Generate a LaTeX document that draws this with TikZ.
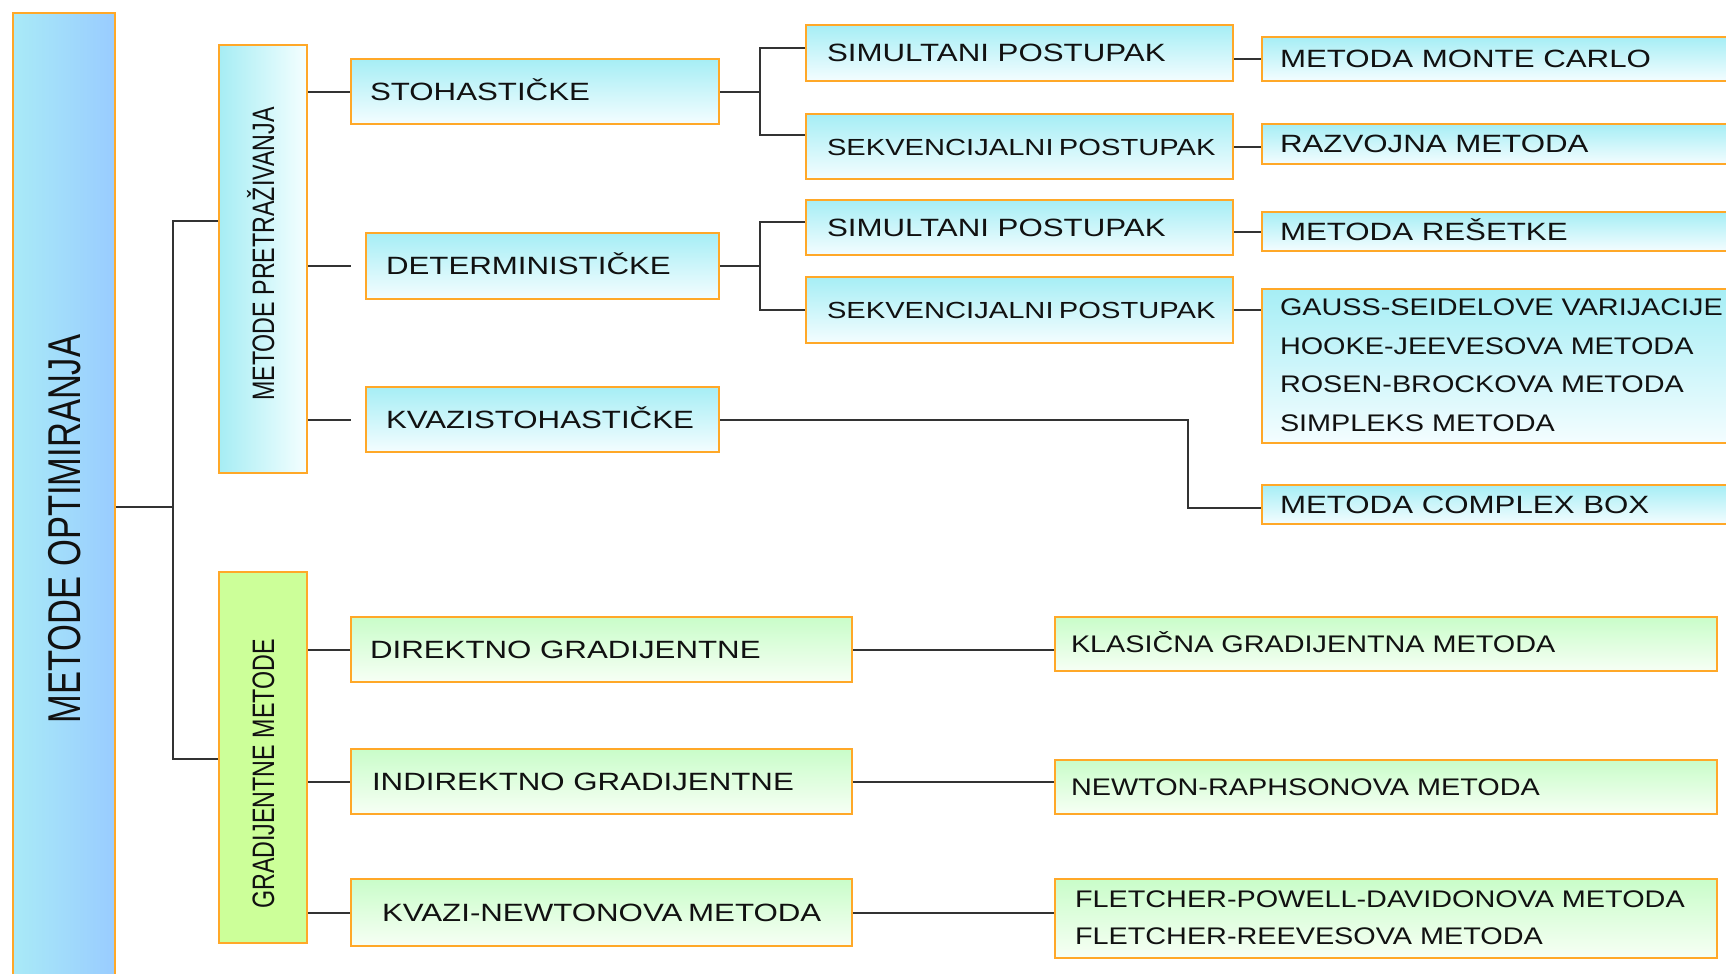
\documentclass[tikz,border=0pt]{standalone}
\usepackage{fontspec}
\setmainfont{Liberation Sans}
\newfontfamily\hfont[FakeStretch=1.2]{Liberation Sans}
\newfontfamily\hfontw[FakeStretch=1.25]{Liberation Sans}
\newfontfamily\vfont[FakeStretch=0.75]{Liberation Sans}
\definecolor{orng}{RGB}{255,168,40}
\definecolor{cyT}{RGB}{166,238,245}
\definecolor{cyB}{RGB}{244,253,255}
\definecolor{grT}{RGB}{201,253,201}
\definecolor{grB}{RGB}{247,255,245}
\definecolor{grS}{RGB}{204,255,153}
\definecolor{mnL}{RGB}{169,234,247}
\definecolor{mnR}{RGB}{153,204,255}
\definecolor{prL}{RGB}{166,237,244}
\definecolor{prR}{RGB}{245,255,255}
\definecolor{lineC}{RGB}{51,51,51}
\definecolor{txt}{RGB}{17,17,17}
\begin{document}
\begin{tikzpicture}[x=1pt,y=-1pt,
  conn/.style={draw=lineC, line width=2pt},
  hb/.style n args={5}{draw=orng, line width=2pt, inner ysep=0pt, inner xsep=#5pt,
     anchor=north west, at={(#1,#2)}, minimum height=#4pt,
     /utils/exec={\pgfmathsetlengthmacro\tw{#3-2*#5}},
     execute at begin node={\hbox to \tw\bgroup},
     execute at end node={\hfil\egroup}, text=txt},
  vb/.style={draw=orng, line width=2pt, inner sep=0pt, text=txt, text depth=0pt, rotate=90},
  blue/.style={top color=cyT, bottom color=cyB},
  green/.style={top color=grT, bottom color=grB},
  one/.style={text height=17.6pt, text depth=0pt},
  fa/.style={font=\hfontw\fontsize{25}{30}\selectfont},
  fs/.style={font=\hfontw\fontsize{23.3}{28}\selectfont},
  fb/.style={font=\hfont\fontsize{24}{29}\selectfont},
  fg/.style={font=\hfont\fontsize{24}{38.5}\selectfont},
  ff/.style={font=\hfont\fontsize{24}{37.5}\selectfont}
]
\useasboundingbox (0,0) rectangle (1726,974);
\fill[white] (0,0) rectangle (1726,974);
\clip (0,0) rectangle (1726,974);

% vertical boxes
\node[vb, minimum width=1032pt, minimum height=102pt, left color=mnL, right color=mnR,
      font=\vfont\fontsize{46}{50}\selectfont, text height=33pt] (main) at (64,529) {METODE OPTIMIRANJA};
\node[vb, minimum width=428pt, minimum height=88pt, left color=prL, right color=prR,
      font=\vfont\fontsize{31}{35}\selectfont, text height=22.2pt] (pret) at (263,259) {\hspace*{10pt}METODE PRETRAŽIVANJA};
\node[vb, minimum width=371pt, minimum height=88pt, fill=grS,
      font=\vfont\fontsize{31}{35}\selectfont, text height=22.2pt] (grad) at (263,757.5) {GRADIJENTNE METODE\hspace*{33pt}};

% level 2 (search)
\node[hb={350}{58}{368}{65}{19}, blue, one, fa] (sto) {STOHASTIČKE};
\node[hb={365}{232}{353}{66}{20}, blue, one, fa] (det) {DETERMINISTIČKE};
\node[hb={365}{386}{353}{65}{20}, blue, one, fa] (kvs) {KVAZISTOHASTIČKE};
% level 3
\node[hb={805}{24}{427}{56}{21}, blue, one, fa] (sim1) {SIMULTANI POSTUPAK};
\node[hb={805}{113}{427}{65}{21}, blue, one, fs] (sek1) {SEKVENCIJALNI POSTUPAK};
\node[hb={805}{199}{427}{55}{21}, blue, one, fa] (sim2) {SIMULTANI POSTUPAK};
\node[hb={805}{276}{427}{66}{21}, blue, one, fs] (sek2) {SEKVENCIJALNI POSTUPAK};
% level 4
\node[hb={1261}{36}{600}{44}{18}, blue, one, fa] (mc) {METODA MONTE CARLO};
\node[hb={1261}{123}{600}{40}{18}, blue, one, fa] (raz) {RAZVOJNA METODA};
\node[hb={1261}{211}{600}{39}{18}, blue, one, fa] (res) {METODA REŠETKE};
\node[hb={1261}{288}{600}{154}{18}, blue, fg] (gs) {\begin{tabular}{@{}l@{}}GAUSS-SEIDELOVE VARIJACIJE\\HOOKE-JEEVESOVA METODA\\ROSEN-BROCKOVA METODA\\SIMPLEKS METODA\end{tabular}};
\node[hb={1261}{484}{600}{39}{18}, blue, one, fa] (cb) {METODA COMPLEX BOX};

% gradient branch
\node[hb={350}{616}{501}{65}{19}, green, one, fa] (dir) {DIREKTNO GRADIJENTNE};
\node[hb={350}{748}{501}{65}{21}, green, one, fa] (ind) {INDIREKTNO GRADIJENTNE};
\node[hb={350}{878}{501}{67}{31}, green, one, fa] (kvn) {KVAZI-NEWTONOVA METODA};
\node[hb={1054}{616}{662}{54}{16}, green, one, fb] (kla) {KLASIČNA GRADIJENTNA METODA};
\node[hb={1054}{759}{662}{54}{16}, green, one, fb] (nr) {NEWTON-RAPHSONOVA METODA};
\node[hb={1054}{878}{662}{79}{20}, green, ff] (fl) {\begin{tabular}{@{}l@{}}FLETCHER-POWELL-DAVIDONOVA METODA\\FLETCHER-REEVESOVA METODA\end{tabular}};

% connectors
\coordinate (t) at (173,507);
\coordinate (tp) at (173,221);
\coordinate (tg) at (173,759);
\draw[conn] (main.south |- t) -- (t);
\draw[conn] (pret.north |- tp) -- (tp) -- (tg) -- (grad.north |- tg);

\draw[conn] (pret.south |- sto.west) -- (sto.west);
\draw[conn] (pret.south |- det.west) -- ([xshift=-14pt]det.west);
\draw[conn] (pret.south |- kvs.west) -- ([xshift=-14pt]kvs.west);
\draw[conn] (grad.south |- dir.west) -- (dir.west);
\draw[conn] (grad.south |- ind.west) -- (ind.west);
\draw[conn] (grad.south |- kvn.west) -- (kvn.west);

\coordinate (bx) at (760,0);
\coordinate (s1) at ([yshift=4.5pt]sim1.west);
\coordinate (k1) at ([yshift=11.5pt]sek1.west);
\coordinate (s2) at ([yshift=5.5pt]sim2.west);
\draw[conn] (sto.east) -- (sto.east -| bx);
\draw[conn] (s1) -| (bx |- k1) -- (k1);
\draw[conn] (det.east) -- (det.east -| bx);
\draw[conn] (s2) -| (bx |- sek2.west) -- (sek2.west);

\draw[conn] (mc.west -| sim1.east) -- (mc.west);
\draw[conn] (sek1.east) -- (sek1.east -| raz.west);
\draw[conn] (res.west -| sim2.east) -- (res.west);
\draw[conn] (sek2.east) -- (sek2.east -| gs.west);
\coordinate (kc) at (1188,0);
\coordinate (c1) at ([yshift=-3.5pt]cb.west);
\draw[conn] (kvs.east) -| (kc |- c1) -- (c1);

\draw[conn] (dir.east) -- (dir.east -| kla.west);
\draw[conn] (ind.east) -- (ind.east -| nr.west);
\draw[conn] (kvn.east) -- (kvn.east -| fl.west);
\end{tikzpicture}
\end{document}
